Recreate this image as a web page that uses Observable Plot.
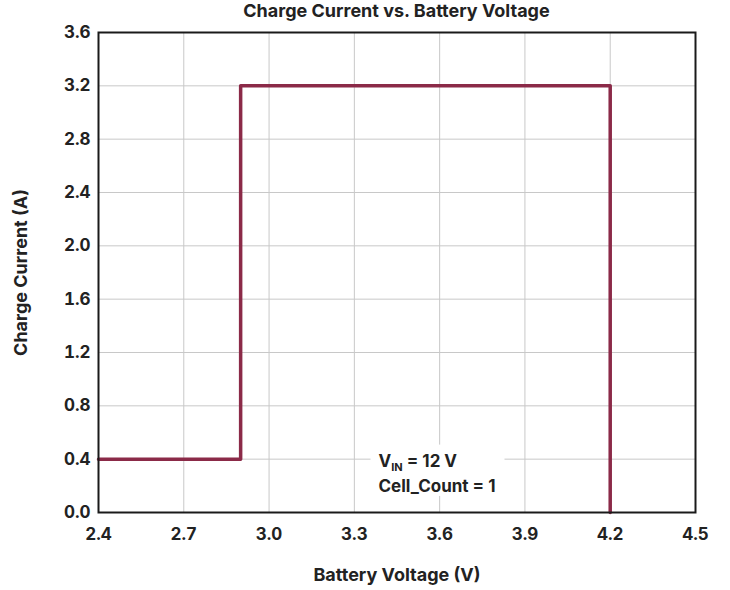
<!DOCTYPE html>
<html>
<head>
<meta charset="utf-8">
<script src="https://cdn.jsdelivr.net/npm/d3@7"></script>
<script src="https://cdn.jsdelivr.net/npm/@observablehq/plot@0.6"></script>
<style>
  html, body { margin: 0; padding: 0; background: #fff; }
  #wrap { position: relative; width: 730px; height: 590px; }
  #title { position: absolute; left: 98px; top: 0; width: 597px; height: 24px; line-height: 24px; text-align: center;
    font: bold 18px Inter, sans-serif; color: #222; z-index: 2; }
</style>
</head>
<body>
<div id="wrap">
<div id="title">Charge Current vs. Battery Voltage</div>
<div id="chart"></div>
</div>
<script>
const voltage = [2.4, 2.9, 2.9, 4.2, 4.2];
const current = [0.4, 0.4, 3.2, 3.2, 0.0];
const xTicks = [2.4, 2.7, 3.0, 3.3, 3.6, 3.9, 4.2, 4.5];
const yTicks = [0.0, 0.4, 0.8, 1.2, 1.6, 2.0, 2.4, 2.8, 3.2, 3.6];
const noteLines = ["VIN = 12 V", "Cell_Count = 1"];
const noteX = [3.385, 3.385];
const noteY = [0.385, 0.195];

const data = voltage.map((v, i) => ({v, c: current[i]}));
const notes = noteLines.map((t, i) => ({t, x: noteX[i], y: noteY[i]}));

const plot = Plot.plot({
  width: 730,
  height: 590,
  marginLeft: 98,
  marginRight: 35,
  marginTop: 32,
  marginBottom: 78,
  style: {fontFamily: "Inter, sans-serif", fontSize: "17px", fontWeight: "bold", color: "#222"},
  x: {domain: [2.4, 4.5]},
  y: {domain: [0, 3.6]},
  marks: [
    Plot.gridX(xTicks, {stroke: "#c8c8c8", strokeOpacity: 1, strokeWidth: 1}),
    Plot.gridY(yTicks, {stroke: "#c8c8c8", strokeOpacity: 1, strokeWidth: 1}),
    Plot.axisX(xTicks, {tickSize: 0, tickPadding: 15, tickFormat: d3.format(".1f"), fontSize: 17}),
    Plot.axisX({ticks: [], label: "Battery Voltage (V)", labelArrow: "none", labelAnchor: "center", labelOffset: 68, fontSize: 18}),
    Plot.axisY(yTicks, {tickSize: 0, tickPadding: 8, tickFormat: d3.format(".1f"), fontSize: 17}),
    Plot.axisY({ticks: [], label: "Charge Current (A)", labelArrow: "none", labelAnchor: "center", labelOffset: 84, fontSize: 18}),
    Plot.line(data, {x: "v", y: "c", stroke: "#8b2a48", strokeWidth: 3.5}),
    Plot.frame({stroke: "#1a1a1a", strokeWidth: 2}),
    Plot.text(notes, {x: "x", y: "y", text: "t", textAnchor: "start", fontSize: 17, fill: "#222"})
  ]
});
document.getElementById("chart").appendChild(plot);

const svg = d3.select(plot);
svg.selectAll("text").each(function() {
  const t = this.textContent;
  if (/[→↑]/.test(t) && this.childElementCount === 0) this.textContent = t.replace(/\s*[→↑]\s*/g, "").trim();
});
let boxes = [];
svg.selectAll("text").each(function() {
  const t = this.textContent;
  if (t === noteLines[0]) {
    const sel = d3.select(this);
    sel.text(null);
    sel.append("tspan").text("V");
    sel.append("tspan").attr("font-size", 11).attr("dy", 4).text("IN");
    sel.append("tspan").attr("dy", -4).text(" = 12 V");
    boxes.push(this);
  } else if (t === noteLines[1]) {
    boxes.push(this);
  }
});
if (boxes.length) {
  const sb = plot.getBoundingClientRect();
  let x0 = Infinity, y0 = Infinity, x1 = -Infinity, y1 = -Infinity;
  boxes.forEach(el => {
    const b = el.getBoundingClientRect();
    x0 = Math.min(x0, b.left - sb.left); y0 = Math.min(y0, b.top - sb.top);
    x1 = Math.max(x1, b.right - sb.left); y1 = Math.max(y1, b.bottom - sb.top);
  });
  const g = boxes[0].parentNode;
  const rect = document.createElementNS("http://www.w3.org/2000/svg", "rect");
  rect.setAttribute("x", x0 - 8);
  rect.setAttribute("y", y0 - 6);
  rect.setAttribute("width", x1 - x0 + 17);
  rect.setAttribute("height", y1 - y0 + 6);
  rect.setAttribute("fill", "white");
  plot.insertBefore(rect, g);
}
</script>
</body>
</html>
